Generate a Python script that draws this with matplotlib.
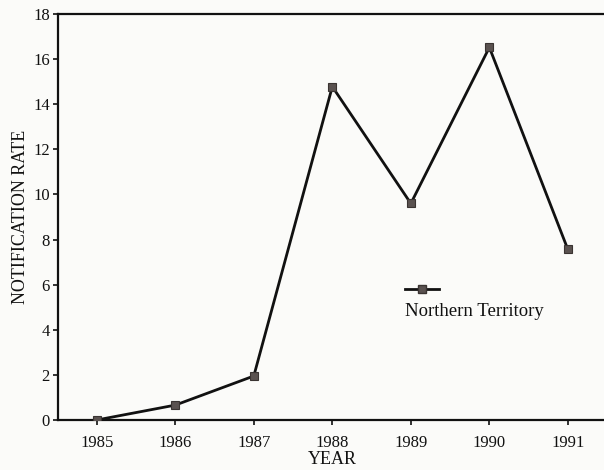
import matplotlib
matplotlib.use('Agg')
import matplotlib.pyplot as plt
from matplotlib.lines import Line2D

years = [1985, 1986, 1987, 1988, 1989, 1990, 1991]
rate = [0.0, 0.66, 1.95, 14.78, 9.6, 16.52, 7.56]
series_name = 'Northern Territory'
yticks = [0, 2, 4, 6, 8, 10, 12, 14, 16, 18]

plt.rcParams['font.family'] = ['Liberation Serif', 'DejaVu Serif']

fig = plt.figure(figsize=(6.04, 4.70), dpi=100, facecolor='#fbfbf9')
ax = fig.add_axes([0.0952, 0.1064, 0.910, 0.8638])
ax.set_facecolor('#fbfbf9')

ax.plot(years, rate, color='#111111', linewidth=2.0, marker='s', markersize=6,
        markerfacecolor='#5a5250', markeredgecolor='#3a3432', markeredgewidth=0.8,
        zorder=3)

ax.set_xlim(1984.5, 1991.5)
ax.set_ylim(0, 18)
ax.set_xticks(years)
ax.set_yticks(yticks)
ax.tick_params(axis='both', direction='out', length=3.5, width=1.2,
               labelsize=12, colors='#111111')
ax.tick_params(axis='x', pad=7)
ax.tick_params(axis='y', pad=2)

for s in ['left', 'top', 'bottom', 'right']:
    ax.spines[s].set_linewidth(1.6)
    ax.spines[s].set_color('#111111')

ax.set_xlabel('YEAR', fontsize=13, labelpad=0, color='#111111')
ax.set_ylabel('NOTIFICATION RATE', fontsize=13, labelpad=3, color='#111111')

# legend key drawn by hand: handle above, label below
key = Line2D([0.632, 0.694], [0.323, 0.323], transform=ax.transAxes,
             color='#111111', linewidth=2.0, zorder=4)
ax.add_line(key)
ax.plot([0.663], [0.323], transform=ax.transAxes, marker='s', markersize=6,
        markerfacecolor='#5a5250', markeredgecolor='#3a3432', zorder=5)
ax.text(0.632, 0.268, series_name, transform=ax.transAxes, fontsize=13.5,
        va='center', ha='left', color='#111111')

fig.savefig('out.png', dpi=100, facecolor=fig.get_facecolor())
